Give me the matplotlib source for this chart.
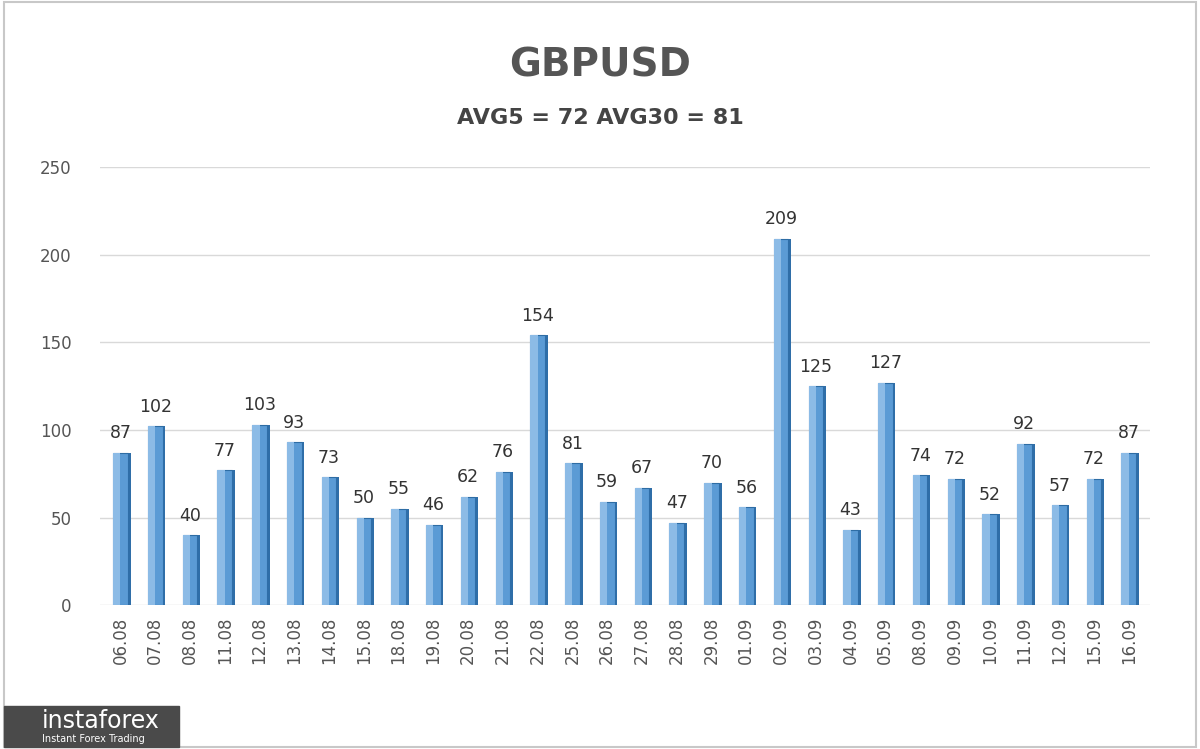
import numpy as np
import matplotlib.pyplot as plt
from matplotlib.patches import Rectangle

dates = ["06.08", "07.08", "08.08", "11.08", "12.08", "13.08", "14.08", "15.08", "18.08", "19.08",
         "20.08", "21.08", "22.08", "25.08", "26.08", "27.08", "28.08", "29.08", "01.09", "02.09",
         "03.09", "04.09", "05.09", "08.09", "09.09", "10.09", "11.09", "12.09", "15.09", "16.09"]
values = [87, 102, 40, 77, 103, 93, 73, 50, 55, 46,
          62, 76, 154, 81, 59, 67, 47, 70, 56, 209,
          125, 43, 127, 74, 72, 52, 92, 57, 72, 87]

fig = plt.figure(figsize=(12, 7.49), dpi=100)
fig.patch.set_facecolor("white")
fig.add_artist(Rectangle((0.003, 0.003), 0.994, 0.994, transform=fig.transFigure,
                         fill=False, edgecolor="#c8c8c8", lw=1.5))

ax = fig.add_axes([0.083, 0.192, 0.875, 0.585])
x = np.arange(len(values))
w = 0.42
ax.bar(x, values, width=w, color="#5b9bd5", edgecolor="#2e6da4", lw=0.8, zorder=3)
ax.bar(x + w / 2 + 0.04, values, width=0.08, color="#2f6ea8", zorder=3)
ax.bar(x - w / 4, values, width=w / 2, color="#8cbbe6", zorder=3)
for xi, v in zip(x, values):
    ax.text(xi, v + 6, str(v), ha="center", va="bottom", fontsize=12.5, color="#333333")

ax.set_ylim(0, 250)
ax.set_xlim(-0.6, len(values) - 0.4)
ax.set_yticks(range(0, 251, 50))
ax.yaxis.grid(True, color="#d9d9d9", lw=1, zorder=0)
ax.set_xticks(x)
ax.set_xticklabels(dates, rotation=90, fontsize=12, color="#555555")
ax.tick_params(axis="y", labelsize=12, labelcolor="#555555", length=0, pad=20)
ax.tick_params(axis="x", length=0, pad=8)
for s in ax.spines.values():
    s.set_visible(False)

fig.text(0.5, 0.912, "GBPUSD", ha="center", va="center", fontsize=28,
         fontweight="bold", color="#555555")
fig.text(0.5, 0.842, "AVG5 = 72 AVG30 = 81", ha="center", va="center", fontsize=16,
         fontweight="bold", color="#444444")

fig.add_artist(Rectangle((0.003, 0.003), 0.146, 0.055, transform=fig.transFigure,
                         color="#4a4a4a", zorder=5))
fig.text(0.035, 0.038, "instaforex", fontsize=17, color="white", va="center", zorder=6)
fig.text(0.035, 0.014, "Instant Forex Trading", fontsize=7, color="white", va="center", zorder=6)

fig.savefig("out.png", dpi=100)
